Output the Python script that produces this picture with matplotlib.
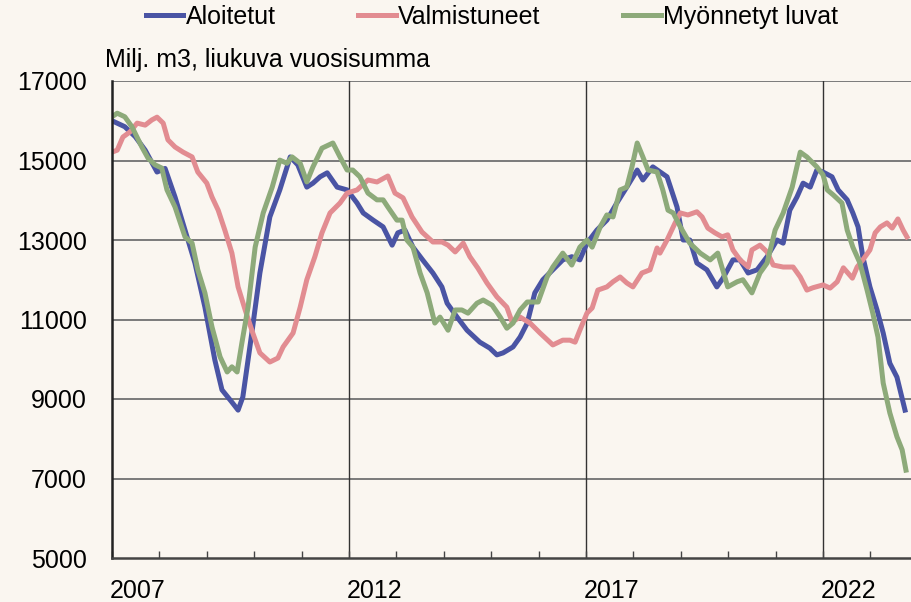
import matplotlib
matplotlib.use("Agg")
import matplotlib.pyplot as plt
from matplotlib.ticker import FixedLocator, MultipleLocator

plt.rcParams['font.family'] = ['Liberation Sans', 'DejaVu Sans']

# Aloitetut (blue)
aloitetut_t = [2007.00, 2007.27, 2007.49, 2007.70, 2007.95, 2008.12, 2008.33, 2008.54, 2008.75, 2008.96,
               2009.17, 2009.32, 2009.53, 2009.66, 2009.76, 2009.95, 2010.12, 2010.33, 2010.54, 2010.76,
               2010.92, 2011.11, 2011.24, 2011.39, 2011.54, 2011.75, 2011.96, 2012.17, 2012.30, 2012.51,
               2012.72, 2012.91, 2013.03, 2013.18, 2013.35, 2013.56, 2013.77, 2013.96, 2014.07, 2014.28,
               2014.49, 2014.76, 2014.97, 2015.12, 2015.25, 2015.46, 2015.61, 2015.76, 2015.92, 2016.09,
               2016.30, 2016.51, 2016.70, 2016.87, 2017.02, 2017.23, 2017.44, 2017.65, 2017.86, 2018.08,
               2018.20, 2018.41, 2018.71, 2018.92, 2019.05, 2019.19, 2019.34, 2019.55, 2019.76, 2019.89,
               2020.10, 2020.25, 2020.42, 2020.61, 2020.82, 2021.03, 2021.16, 2021.30, 2021.45, 2021.58,
               2021.73, 2021.87, 2022.00, 2022.19, 2022.32, 2022.51, 2022.63, 2022.74, 2022.84, 2022.99,
               2023.14, 2023.27, 2023.41, 2023.56, 2023.73]
aloitetut = [16000, 15850, 15600, 15260, 14710, 14800, 14080, 13250, 12420, 11310,
             9980, 9230, 8920, 8720, 9050, 10660, 12170, 13580, 14260, 15090,
             14890, 14330, 14430, 14590, 14690, 14330, 14260, 13930, 13680, 13500,
             13330, 12870, 13180, 13250, 12820, 12490, 12170, 11820, 11410, 11060,
             10730, 10430, 10280, 10110, 10160, 10310, 10560, 10910, 11670, 12000,
             12250, 12500, 12580, 12500, 12920, 13250, 13500, 13930, 14330, 14760,
             14510, 14840, 14590, 13830, 13000, 13000, 12420, 12250, 11820, 12040,
             12500, 12500, 12170, 12250, 12580, 13000, 12920, 13750, 14080, 14430,
             14330, 14760, 14710, 14590, 14260, 14010, 13680, 13330, 12580, 11820,
             11240, 10660, 9900, 9550, 8720]

# Valmistuneet (pink)
valmistuneet_t = [2007.00, 2007.11, 2007.23, 2007.38, 2007.53, 2007.70, 2007.84, 2007.95, 2008.08, 2008.18,
                  2008.33, 2008.50, 2008.69, 2008.81, 2009.00, 2009.11, 2009.24, 2009.38, 2009.53, 2009.66,
                  2009.81, 2009.97, 2010.12, 2010.33, 2010.50, 2010.61, 2010.82, 2010.97, 2011.11, 2011.28,
                  2011.43, 2011.60, 2011.81, 2011.96, 2012.17, 2012.40, 2012.59, 2012.82, 2012.97, 2013.14,
                  2013.33, 2013.54, 2013.77, 2013.96, 2014.09, 2014.24, 2014.41, 2014.55, 2014.72, 2014.91,
                  2015.12, 2015.33, 2015.44, 2015.61, 2015.82, 2016.03, 2016.30, 2016.51, 2016.66, 2016.77,
                  2016.87, 2017.02, 2017.13, 2017.25, 2017.44, 2017.57, 2017.72, 2017.86, 2017.99, 2018.18,
                  2018.35, 2018.50, 2018.56, 2018.71, 2018.88, 2018.99, 2019.15, 2019.34, 2019.45, 2019.57,
                  2019.72, 2019.87, 2019.99, 2020.10, 2020.25, 2020.42, 2020.50, 2020.67, 2020.82, 2020.95,
                  2021.16, 2021.37, 2021.52, 2021.66, 2021.79, 2022.00, 2022.15, 2022.30, 2022.43, 2022.62,
                  2022.72, 2022.84, 2022.99, 2023.10, 2023.21, 2023.35, 2023.46, 2023.58, 2023.69, 2023.77]
valmistuneet = [15210, 15260, 15590, 15720, 15940, 15890, 16020, 16090, 15940, 15520,
                15340, 15210, 15090, 14710, 14430, 14080, 13750, 13250, 12670, 11820,
                11240, 10660, 10160, 9930, 10030, 10310, 10660, 11310, 12000, 12580,
                13180, 13680, 13930, 14180, 14260, 14510, 14460, 14610, 14180, 14060,
                13580, 13200, 12950, 12950, 12870, 12700, 12920, 12580, 12290, 11920,
                11570, 11310, 10940, 11060, 10910, 10660, 10360, 10480, 10480, 10430,
                10730, 11160, 11290, 11740, 11820, 11950, 12070, 11920, 11820, 12170,
                12250, 12800, 12670, 13000, 13430, 13680, 13630, 13710, 13580, 13300,
                13180, 13080, 13130, 12750, 12500, 12320, 12750, 12870, 12700, 12370,
                12320, 12320, 12070, 11740, 11800, 11870, 11790, 11950, 12300, 12040,
                12320, 12500, 12750, 13180, 13330, 13430, 13300, 13530, 13250, 13080]

# Myönnetyt luvat (green)
luvat_t = [2007.00, 2007.11, 2007.27, 2007.42, 2007.63, 2007.76, 2007.91, 2008.05, 2008.16, 2008.33,
           2008.54, 2008.69, 2008.81, 2008.96, 2009.11, 2009.28, 2009.43, 2009.53, 2009.64, 2009.74,
           2009.87, 2010.02, 2010.19, 2010.38, 2010.54, 2010.69, 2010.80, 2010.97, 2011.11, 2011.24,
           2011.43, 2011.66, 2011.81, 2011.96, 2012.08, 2012.23, 2012.40, 2012.59, 2012.72, 2012.82,
           2013.01, 2013.12, 2013.22, 2013.35, 2013.50, 2013.65, 2013.81, 2013.92, 2014.09, 2014.24,
           2014.38, 2014.51, 2014.70, 2014.83, 2015.02, 2015.19, 2015.33, 2015.46, 2015.61, 2015.76,
           2015.99, 2016.18, 2016.30, 2016.51, 2016.70, 2016.87, 2017.02, 2017.13, 2017.30, 2017.44,
           2017.57, 2017.72, 2017.86, 2017.97, 2018.08, 2018.20, 2018.31, 2018.50, 2018.62, 2018.73,
           2018.84, 2018.99, 2019.19, 2019.41, 2019.62, 2019.78, 2019.99, 2020.19, 2020.31, 2020.50,
           2020.67, 2020.82, 2020.99, 2021.16, 2021.35, 2021.52, 2021.66, 2021.87, 2022.00, 2022.09,
           2022.22, 2022.40, 2022.51, 2022.63, 2022.78, 2022.93, 2023.05, 2023.16, 2023.27, 2023.41,
           2023.56, 2023.67, 2023.75]
luvat = [16100, 16190, 16100, 15850, 15340, 15060, 14890, 14810, 14260, 13830,
         13080, 12920, 12250, 11670, 10810, 10060, 9680, 9810, 9680, 10410,
         11310, 12820, 13680, 14330, 15010, 14930, 15090, 14930, 14460, 14840,
         15310, 15440, 15090, 14760, 14760, 14590, 14180, 14010, 14010, 13830,
         13500, 13500, 13000, 12820, 12170, 11670, 10910, 11060, 10730, 11240,
         11240, 11160, 11410, 11490, 11360, 11060, 10780, 10910, 11240, 11440,
         11440, 12070, 12320, 12670, 12370, 12820, 13000, 12820, 13330, 13630,
         13580, 14260, 14330, 14840, 15440, 15090, 14760, 14710, 14260, 13750,
         13680, 13330, 12920, 12670, 12500, 12670, 11820, 11950, 12000, 11670,
         12170, 12420, 13250, 13680, 14330, 15210, 15090, 14840, 14640, 14260,
         14130, 13930, 13250, 12820, 12420, 11740, 11160, 10560, 9400, 8650,
         8050, 7720, 7210]

year_labels = ['2007', '2012', '2017', '2022']
y_ticks = [5000, 7000, 9000, 11000, 13000, 15000, 17000]

bg = '#faf6f0'
fs = 18
fig = plt.figure(figsize=(9.11, 6.02), dpi=100, facecolor=bg)
ax = fig.add_axes([112 / 911, 44 / 602, (917.8 - 112) / 911, 477 / 602])
ax.set_facecolor(bg)

l1, = ax.plot(aloitetut_t, aloitetut, color='#4a54a4', lw=3.6, label='Aloitetut', solid_joinstyle='round')
l2, = ax.plot(valmistuneet_t, valmistuneet, color='#e28c91', lw=3.6, label='Valmistuneet', solid_joinstyle='round')
l3, = ax.plot(luvat_t, luvat, color='#8daa7a', lw=3.6, label='Myönnetyt luvat', solid_joinstyle='round')

ax.set_xlim(2007, 2024)
ax.set_ylim(5000, 17000)
ax.set_yticks(y_ticks)
ax.set_yticklabels([str(v) for v in y_ticks])
ax.tick_params(axis='y', length=0, pad=18, labelsize=fs)

# horizontal gridlines
for v in y_ticks[1:]:
    ax.axhline(v, color='#7a7a7a', lw=1.4, zorder=0)
# vertical gridlines at 2012, 2017, 2022
for yr in [2012, 2017, 2022]:
    ax.axvline(yr, color='#333333', lw=1.0, zorder=0)

ax.xaxis.set_major_locator(FixedLocator([2007, 2012, 2017, 2022]))
ax.xaxis.set_minor_locator(MultipleLocator(1))
ax.set_xticklabels([])
ax.tick_params(axis='x', which='both', direction='in', length=5, width=1, color='#444444')
for yr, lab in zip([2007, 2012, 2017, 2022], year_labels):
    ax.text(yr - 0.04, -0.045, lab, transform=ax.get_xaxis_transform(), ha='left', va='top', fontsize=fs)

for s in ['top', 'right']:
    ax.spines[s].set_visible(False)
ax.spines['left'].set_color('#222222')
ax.spines['left'].set_linewidth(1.8)
ax.spines['bottom'].set_color('#444444')
ax.spines['bottom'].set_linewidth(1.8)

fig.text(105 / 911, 1 - 60 / 602, 'Milj. m3, liukuva vuosisumma', ha='left', va='center', fontsize=fs)

fig.legend(handles=[l1, l2, l3], loc='center', bbox_to_anchor=(492 / 911, 1 - 17 / 602), ncol=3,
           frameon=False, fontsize=fs, handlelength=1.5, handletextpad=0.1, columnspacing=3.3,
           borderaxespad=0)

fig.savefig('out.png', dpi=100, facecolor=bg)
